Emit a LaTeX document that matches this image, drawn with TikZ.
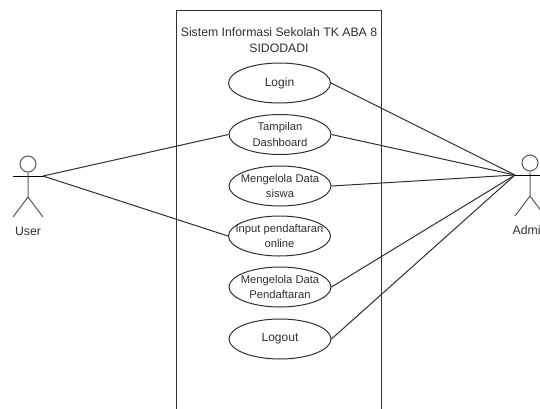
\documentclass[tikz,border=0pt]{standalone}
\usepackage{fontspec}
\setmainfont{Liberation Sans}
\usetikzlibrary{shapes.geometric}
\definecolor{ink}{HTML}{303030}
\newcommand{\zw}[1]{\makebox[0pt]{#1}}
\tikzset{
  px/.style={x=0.75pt,y=-0.75pt},
  usecase/.style={draw=ink,ellipse,line width=0.75pt,minimum width=76.5pt,minimum height=30pt,inner sep=0pt,align=center,font=\fontsize{8.4}{11.6}\selectfont,text=ink},
  bigcase/.style={usecase,font=\fontsize{9}{11.6}\selectfont},
  label/.style={font=\fontsize{9.2}{11.6}\selectfont,text=ink,align=center,inner sep=0pt},
  wire/.style={draw=ink,line width=0.75pt},
  limb/.style={draw=ink!80,line width=0.75pt}
}
\begin{document}
\begin{tikzpicture}[px]
\useasboundingbox (0,0) rectangle (540,408);
\clip (0,0) rectangle (540,408);
\fill[white] (0,0) rectangle (540,408);
\draw[draw=ink,line width=0.75pt] (176,10.5) -- (381.5,10.5) (176,10.5) -- (176,420) (381.5,10.5) -- (381.5,420);
\node[label] (title) at (279,40) {Sistem Informasi Sekolah TK ABA 8\\SIDODADI};
\node[bigcase] (login) at (279.5,83) {\zw{Login}};
\node[usecase] (dash) at (280,134.5) {\zw{Tampilan}\\\zw{Dashboard}};
\node[usecase] (siswa) at (280,186) {\zw{Mengelola Data}\\\zw{siswa}};
\node[usecase] (input) at (279.5,236) {\zw{Input pendaftaran}\\\zw{online}};
\node[usecase] (daftar) at (280,287) {\zw{Mengelola Data}\\\zw{Pendaftaran}};
\node[bigcase] (logout) at (280,339) {\zw{Logout}};
% User actor
\node[draw=ink!80,circle,line width=0.75pt,minimum size=12pt,inner sep=0pt] (uhead) at (28,164) {};
\coordinate (uhip) at (28,197);
\coordinate (uhand) at (43,176);
\coordinate (uhandl) at (13,176);
\coordinate (uleft) at (13,217);
\coordinate (uright) at (43,217);
\draw[limb] (uhead) -- (uhip) -- (uleft) (uhip) -- (uright);
\draw[wire,draw=black] (uhandl) -- (uhand);
\node[label] (ulabel) at (28,231) {User};
% Admin actor
\node[draw=ink!80,circle,line width=0.75pt,minimum size=12pt,inner sep=0pt] (ahead) at (530,163) {};
\coordinate (ahip) at (530,196);
\coordinate (ahand) at (515,175);
\coordinate (ahandr) at (545,175);
\coordinate (aleft) at (515,216);
\coordinate (aright) at (545,216);
\draw[limb] (ahead) -- (ahip) -- (aleft) (ahip) -- (aright);
\draw[wire,draw=black] (ahand) -- (ahandr);
\node[label] (alabel) at (530,230) {Admin};
% Connectors
\draw[wire] (uhand) -- (dash.west);
\draw[wire] (uhand) -- (input.west);
\draw[wire] (login.east) -- (ahand);
\draw[wire] (dash.east) -- (ahand);
\draw[wire] (siswa.east) -- (ahand);
\draw[wire] (daftar.east) -- (ahand);
\draw[wire] (logout.east) -- (ahand);
\end{tikzpicture}
\end{document}
